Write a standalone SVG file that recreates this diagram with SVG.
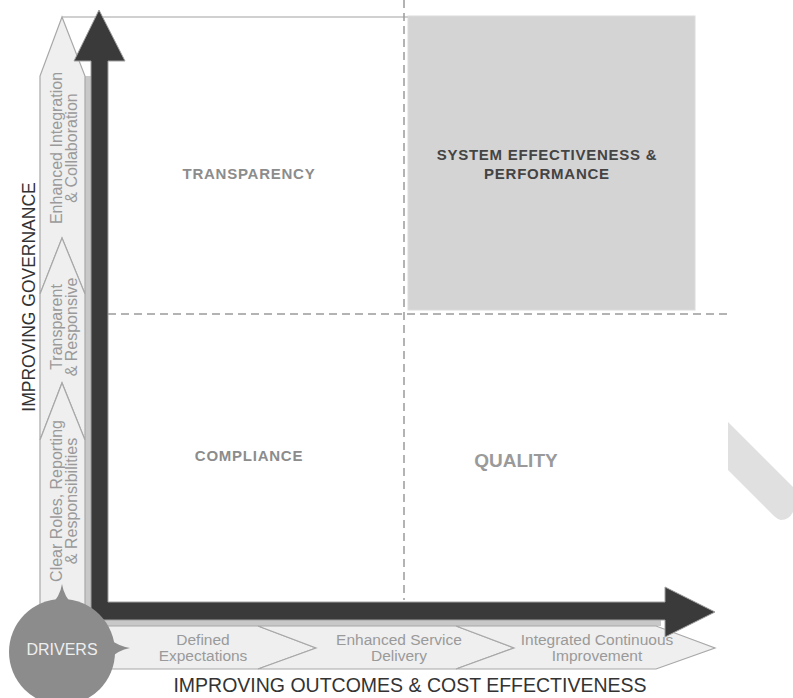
<svg xmlns="http://www.w3.org/2000/svg" width="793" height="698" viewBox="0 0 793 698">
<style>
.band{fill:#efefef;stroke:#a8a8a8;stroke-width:1.2}
.lbl{font-family:"Liberation Sans",Arial,sans-serif;font-size:16px;fill:#9a9a9a;text-anchor:middle}
.hl{font-size:15.5px}
.axis{font-family:"Liberation Sans",Arial,sans-serif;font-size:19.5px;fill:#333;text-anchor:middle}
.quad{font-family:"Liberation Sans",Arial,sans-serif;font-size:15px;font-weight:bold;letter-spacing:0.75px;text-anchor:middle;fill:#8c8c8c}
.dash{stroke:#9a9a9a;stroke-width:1.5;stroke-dasharray:8 5;fill:none}
</style>
<rect width="793" height="698" fill="#fff"/>
<path d="M728,422 L793,487 L793,512 Q789,520 781,520 Q777,519 774,516 L728,470 Z" fill="#e0e0e0"/>
<g id="quadrant-system">
<rect x="408" y="16" width="287" height="294" fill="#d4d4d4" stroke="#dcdcdc"/>
<text class="quad" style="fill:#444" x="547" y="160">SYSTEM EFFECTIVENESS &amp;</text>
<text class="quad" style="fill:#444" x="547" y="179">PERFORMANCE</text>
</g>
<line x1="62" y1="17" x2="408" y2="17" stroke="#d0d0d0" stroke-width="2"/>
<g id="grid">
<line class="dash" x1="404" y1="0" x2="404" y2="600"/>
<line class="dash" x1="108" y1="314" x2="727" y2="314"/>
</g>
<g id="quadrant-transparency"><text class="quad" x="249" y="179">TRANSPARENCY</text></g>
<g id="quadrant-compliance"><text class="quad" x="249" y="461">COMPLIANCE</text></g>
<g id="quadrant-quality"><text class="quad" style="font-size:19px;letter-spacing:0;fill:#9a9a9a" x="516" y="467">QUALITY</text></g>
<rect x="84" y="76" width="7" height="544" fill="#c8c8c8"/>
<rect x="91" y="619" width="570" height="7" fill="#c8c8c8"/>
<g id="chevron-enhanced-integration">
<polygon class="band" points="40,294 40,76 62,17 85,76 85,294 62,238"/>
<g transform="translate(0,148) rotate(-90)"><text class="lbl" x="0" y="62">Enhanced Integration</text><text class="lbl" x="0" y="77">&amp; Collaboration</text></g>
</g>
<g id="chevron-transparent">
<polygon class="band" points="40,440 40,294 62,238 85,294 85,440 62,383"/>
<g transform="translate(0,327) rotate(-90)"><text class="lbl" x="0" y="62">Transparent</text><text class="lbl" x="0" y="77">&amp; Responsive</text></g>
</g>
<g id="chevron-clear-roles">
<polygon class="band" points="40,610 40,440 62,383 85,440 85,610"/>
<g transform="translate(0,501) rotate(-90)"><text class="lbl" x="0" y="62">Clear Roles, Reporting</text><text class="lbl" x="0" y="77">&amp; Responsibilities</text></g>
</g>
<g id="chevron-defined">
<polygon class="band" points="95,626 258,626 316,648 258,669 95,669"/>
<text class="lbl hl" x="203" y="645">Defined</text>
<text class="lbl hl" x="203" y="661">Expectations</text>
</g>
<g id="chevron-service">
<polygon class="band" points="258,626 456,626 514,648 456,669 258,669 316,648"/>
<text class="lbl hl" x="399" y="645">Enhanced Service</text>
<text class="lbl hl" x="399" y="661">Delivery</text>
</g>
<g id="chevron-continuous">
<polygon class="band" points="456,626 656,626 715,648 656,669 456,669 514,648"/>
<text class="lbl hl" x="597" y="645">Integrated Continuous</text>
<text class="lbl hl" x="597" y="661">Improvement</text>
</g>
<g id="connectors">
<path d="M91,620 L91,61 L74,61 L99,10 L125,61 L108,61 L108,602 L665,602 L665,587 L715,612 L665,637 L665,620 Z" fill="#3a3a3a" stroke="#a0a0a0" stroke-width="1"/>
</g>
<g id="drivers">
<circle cx="62" cy="652" r="53" fill="#8c8c8c"/>
<path d="M50,606 Q60,597 62,584 Q64,597 74,606 Z" fill="#8c8c8c"/>
<path d="M108,638 Q118,646 130,648 Q118,650 108,660 Z" fill="#8c8c8c"/>
<text x="62" y="655" font-family="Liberation Sans, Arial, sans-serif" font-size="16" fill="#eeeeee" text-anchor="middle">DRIVERS</text>
</g>
<g id="axis-labels">
<g transform="translate(0,297) rotate(-90)"><text class="axis" style="font-size:17.5px" x="0" y="35">IMPROVING GOVERNANCE</text></g>
<text class="axis" x="410" y="692">IMPROVING OUTCOMES &amp; COST EFFECTIVENESS</text>
</g>
</svg>
